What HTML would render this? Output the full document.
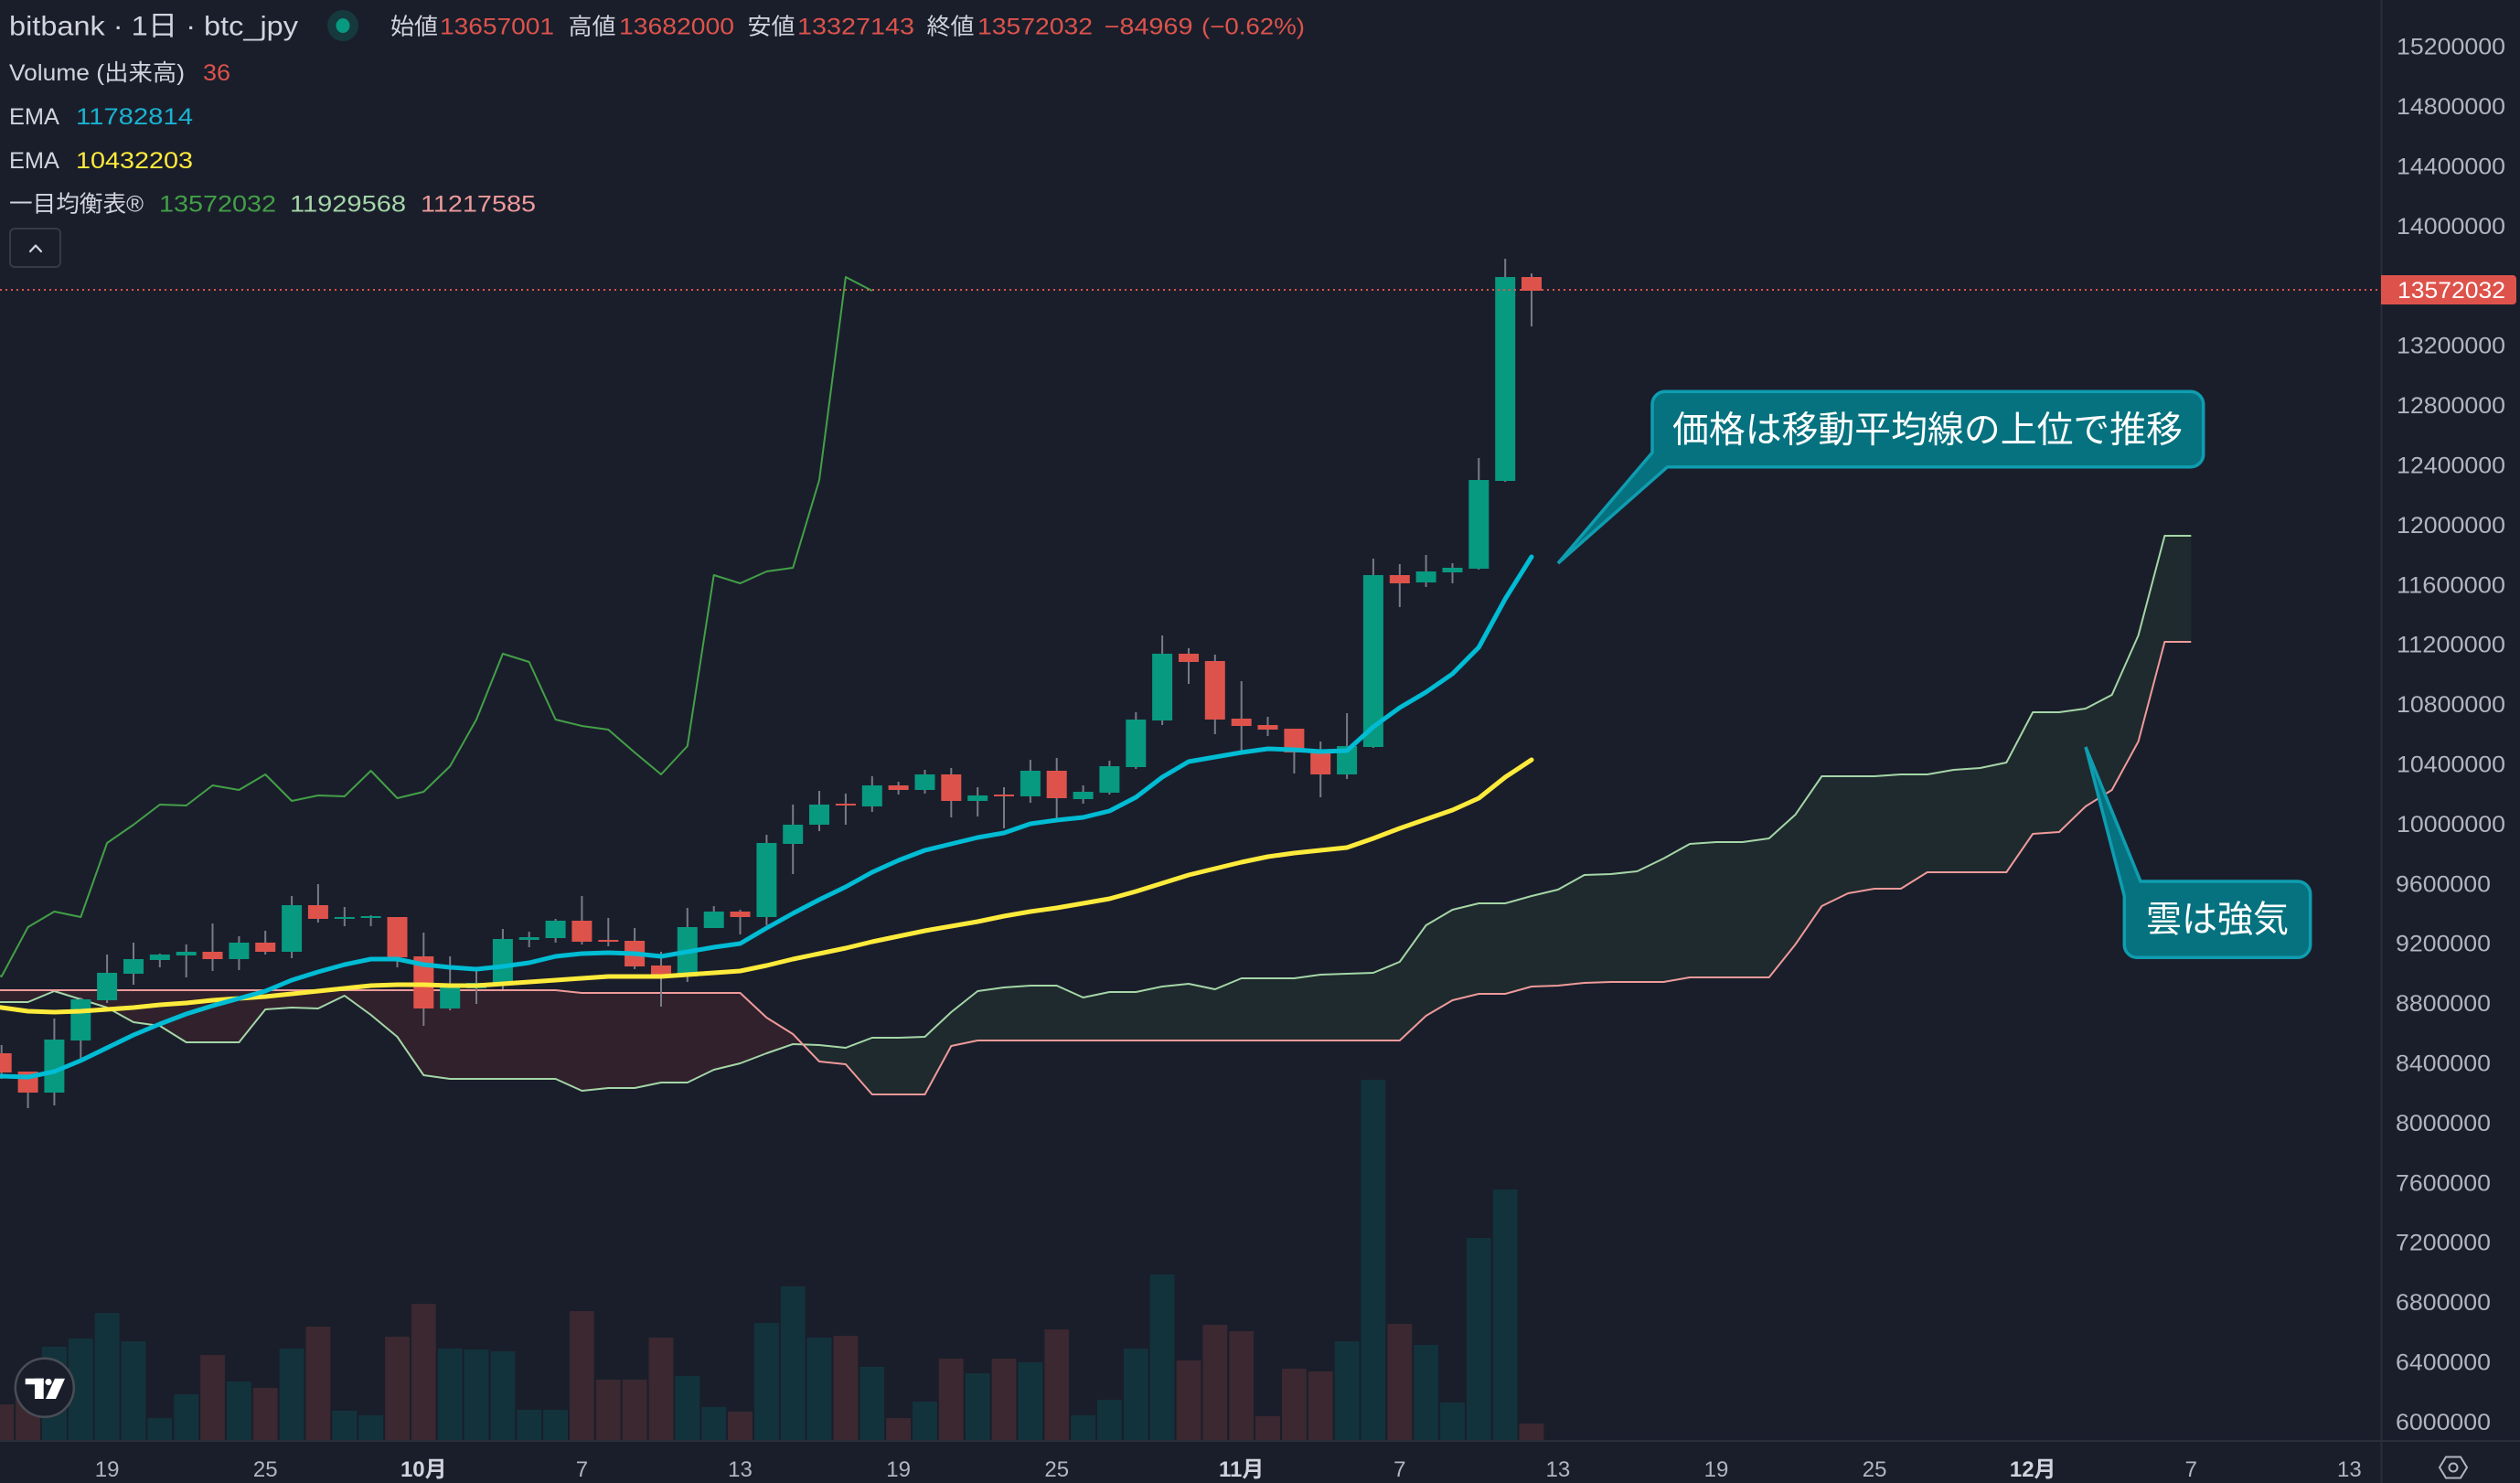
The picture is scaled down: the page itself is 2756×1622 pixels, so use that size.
<!DOCTYPE html>
<html><head><meta charset="utf-8"><style>html,body{margin:0;padding:0;background:#1a1e2b;overflow:hidden}svg{display:block}</style></head>
<body>
<svg xmlns="http://www.w3.org/2000/svg" width="2756" height="1622" viewBox="0 0 2756 1622" font-family="'Liberation Sans','Noto Sans CJK JP',sans-serif">
<rect width="2756" height="1622" fill="#1a1e2b"/>

<!-- volume -->
<g fill="#3b2830">
<rect x="-11.7" y="1536" width="26.8" height="39"/><rect x="17.2" y="1525" width="26.8" height="50"/>
<rect x="219.1" y="1482" width="26.8" height="93"/><rect x="276.8" y="1518" width="26.8" height="57"/>
<rect x="334.5" y="1451" width="26.8" height="124"/><rect x="421.1" y="1462" width="26.8" height="113"/>
<rect x="449.9" y="1426" width="26.8" height="149"/><rect x="623" y="1434" width="26.8" height="141"/>
<rect x="651.9" y="1509" width="26.8" height="66"/><rect x="680.7" y="1509" width="26.8" height="66"/>
<rect x="709.6" y="1463" width="26.8" height="112"/><rect x="796.1" y="1544" width="26.8" height="31"/>
<rect x="911.5" y="1461" width="26.8" height="114"/><rect x="969.2" y="1551" width="26.8" height="24"/>
<rect x="1026.9" y="1486" width="26.8" height="89"/><rect x="1084.6" y="1486" width="26.8" height="89"/>
<rect x="1142.3" y="1454" width="26.8" height="121"/><rect x="1286.6" y="1488" width="26.8" height="87"/>
<rect x="1315.4" y="1449" width="26.8" height="126"/><rect x="1344.3" y="1456" width="26.8" height="119"/>
<rect x="1373.1" y="1549" width="26.8" height="26"/><rect x="1402" y="1497" width="26.8" height="78"/>
<rect x="1430.8" y="1500" width="26.8" height="75"/><rect x="1517.4" y="1448" width="26.8" height="127"/>
<rect x="1661.6" y="1557" width="26.8" height="18"/>
</g>
<g fill="#13333c">
<rect x="46" y="1473" width="26.8" height="102"/><rect x="74.9" y="1464" width="26.8" height="111"/>
<rect x="103.7" y="1436" width="26.8" height="139"/><rect x="132.6" y="1467" width="26.8" height="108"/>
<rect x="161.4" y="1551" width="26.8" height="24"/><rect x="190.3" y="1525" width="26.8" height="50"/>
<rect x="248" y="1511" width="26.8" height="64"/><rect x="305.7" y="1475" width="26.8" height="100"/>
<rect x="363.4" y="1543" width="26.8" height="32"/><rect x="392.2" y="1548" width="26.8" height="27"/>
<rect x="478.8" y="1475" width="26.8" height="100"/><rect x="507.6" y="1476" width="26.8" height="99"/>
<rect x="536.5" y="1478" width="26.8" height="97"/><rect x="565.3" y="1542" width="26.8" height="33"/>
<rect x="594.2" y="1542" width="26.8" height="33"/><rect x="738.4" y="1505" width="26.8" height="70"/>
<rect x="767.3" y="1539" width="26.8" height="36"/><rect x="825" y="1447" width="26.8" height="128"/>
<rect x="853.8" y="1407" width="26.8" height="168"/><rect x="882.6" y="1463" width="26.8" height="112"/>
<rect x="940.4" y="1495" width="26.8" height="80"/><rect x="998.1" y="1533" width="26.8" height="42"/>
<rect x="1055.8" y="1502" width="26.8" height="73"/><rect x="1113.5" y="1490" width="26.8" height="85"/>
<rect x="1171.2" y="1548" width="26.8" height="27"/><rect x="1200" y="1531" width="26.8" height="44"/>
<rect x="1228.9" y="1475" width="26.8" height="100"/><rect x="1257.7" y="1394" width="26.8" height="181"/>
<rect x="1459.7" y="1467" width="26.8" height="108"/><rect x="1488.5" y="1181" width="26.8" height="394"/>
<rect x="1546.2" y="1471" width="26.8" height="104"/><rect x="1575.1" y="1534" width="26.8" height="41"/>
<rect x="1603.9" y="1354" width="26.8" height="221"/><rect x="1632.8" y="1301" width="26.8" height="274"/>
</g>

<!-- cloud fills -->
<polygon fill="rgba(244,67,54,0.1)" points="-27.2,1096 1.7,1096 30.6,1096 59.4,1084 88.3,1093 117.1,1102 146,1118 174.8,1122 203.7,1140 232.5,1140 261.4,1140 290.2,1104 319.1,1102 347.9,1103 376.8,1089 405.6,1110 434.5,1134 463.3,1176 492.2,1180 521,1180 549.9,1180 578.7,1180 607.6,1180 636.4,1193 665.3,1190 694.1,1190 723,1184 751.8,1184 780.7,1170 809.5,1163 838.4,1152 867.2,1142 878.2,1142.4 867.2,1131 838.4,1113 809.5,1086 636.4,1086 607.6,1083 -27.2,1083"/>
<polygon fill="rgba(67,160,71,0.1)" points="878.2,1142.4 896,1143 924.9,1146 953.8,1135 982.6,1135 1011.5,1134 1040.3,1107 1069.2,1084 1098,1080 1126.9,1078 1155.7,1078 1184.6,1091 1213.4,1085 1242.3,1085 1271.1,1079 1300,1076 1328.8,1082 1357.7,1070 1386.5,1070 1415.4,1070 1444.2,1066 1473.1,1065 1501.9,1064 1530.8,1052 1559.6,1012 1588.5,995 1617.3,988 1646.2,988 1675,980 1703.9,973 1732.7,957 1761.6,956 1790.4,953 1819.3,939 1848.1,923 1877,921 1905.8,921 1934.7,917 1963.5,891 1992.4,849 2021.2,849 2050.1,849 2078.9,847 2107.8,847 2136.6,842 2165.5,840 2194.3,834 2223.2,779 2252,779 2280.9,775 2309.7,760 2338.6,695 2367.4,586 2396.3,586 2396.3,702 2367.4,702 2338.6,811 2309.7,864 2280.9,882 2252,910 2223.2,912 2194.3,954 2107.8,954 2078.9,972 2050.1,972 2021.2,977 1992.4,991 1963.5,1033 1934.7,1069 1848.1,1069 1819.3,1074 1761.6,1074 1732.7,1075 1703.9,1078 1675,1079 1646.2,1087 1617.3,1087 1588.5,1094 1559.6,1111 1530.8,1138 1069.2,1138 1040.3,1144 1011.5,1197 953.8,1197 924.9,1164 896,1161"/>

<!-- senkou lines -->
<polyline fill="none" stroke="#a5d6a7" stroke-width="2" stroke-linejoin="round" points="-27.2,1096 1.7,1096 30.6,1096 59.4,1084 88.3,1093 117.1,1102 146,1118 174.8,1122 203.7,1140 232.5,1140 261.4,1140 290.2,1104 319.1,1102 347.9,1103 376.8,1089 405.6,1110 434.5,1134 463.3,1176 492.2,1180 521,1180 549.9,1180 578.7,1180 607.6,1180 636.4,1193 665.3,1190 694.1,1190 723,1184 751.8,1184 780.7,1170 809.5,1163 838.4,1152 867.2,1142 896,1143 924.9,1146 953.8,1135 982.6,1135 1011.5,1134 1040.3,1107 1069.2,1084 1098,1080 1126.9,1078 1155.7,1078 1184.6,1091 1213.4,1085 1242.3,1085 1271.1,1079 1300,1076 1328.8,1082 1357.7,1070 1386.5,1070 1415.4,1070 1444.2,1066 1473.1,1065 1501.9,1064 1530.8,1052 1559.6,1012 1588.5,995 1617.3,988 1646.2,988 1675,980 1703.9,973 1732.7,957 1761.6,956 1790.4,953 1819.3,939 1848.1,923 1877,921 1905.8,921 1934.7,917 1963.5,891 1992.4,849 2021.2,849 2050.1,849 2078.9,847 2107.8,847 2136.6,842 2165.5,840 2194.3,834 2223.2,779 2252,779 2280.9,775 2309.7,760 2338.6,695 2367.4,586 2396.3,586"/>
<polyline fill="none" stroke="#ef9a9a" stroke-width="2" stroke-linejoin="round" points="-27.2,1083 607.6,1083 636.4,1086 809.5,1086 838.4,1113 867.2,1131 896,1161 924.9,1164 953.8,1197 1011.5,1197 1040.3,1144 1069.2,1138 1530.8,1138 1559.6,1111 1588.5,1094 1617.3,1087 1646.2,1087 1675,1079 1703.9,1078 1732.7,1075 1761.6,1074 1819.3,1074 1848.1,1069 1934.7,1069 1963.5,1033 1992.4,991 2021.2,977 2050.1,972 2078.9,972 2107.8,954 2194.3,954 2223.2,912 2252,910 2280.9,882 2309.7,864 2338.6,811 2367.4,702 2396.3,702"/>

<!-- lagging span -->
<polyline fill="none" stroke="#43a047" stroke-width="2" stroke-linejoin="round" points="-27.2,1057 1.7,1068 30.6,1014 59.4,997 88.3,1003 117.1,922 146,902 174.8,880 203.7,881 232.5,859 261.4,864 290.2,847 319.1,876 347.9,870 376.8,871 405.6,843 434.5,873 463.3,866 492.2,838 521,787 549.9,715 578.7,724 607.6,787 636.4,794 665.3,798 694.1,823 723,847 751.8,816 780.7,629 809.5,638 838.4,625 867.2,621 896,525 924.9,303 953.8,318"/>

<!-- wicks -->
<path fill="none" stroke="#787b86" stroke-width="2" d="M1.7 1143V1180M30.6 1172V1212M59.4 1114V1209M88.3 1091V1160M117.1 1044V1097M146 1031V1077M174.8 1043V1058M203.7 1033V1069M232.5 1010V1062M261.4 1024V1061M290.2 1018V1044M319.1 980V1048M347.9 967V1009M376.8 992V1013M405.6 1001V1013M434.5 1003V1058M463.3 1020V1122M492.2 1046V1105M521 1058V1098M549.9 1016V1082M578.7 1019V1036M607.6 1005V1031M636.4 980V1033M665.3 1004V1035M694.1 1015V1060M723 1041V1101M751.8 993V1074M780.7 991V1015M809.5 995V1022M838.4 913V1012M867.2 880V956M896 865V909M924.9 868V902M953.8 849V888M982.6 855V869M1011.5 842V868M1040.3 840V894M1069.2 861V893M1098 861V906M1126.9 831V878M1155.7 829V898M1184.6 859V879M1213.4 832V869M1242.3 779V841M1271.1 695V793M1300 709V748M1328.8 716V803M1357.7 745V821M1386.5 784V805M1415.4 797V846M1444.2 811V872M1473.1 780V852M1501.9 611V818M1530.8 617V664M1559.6 607V642M1588.5 616V638M1617.3 501V623M1646.2 283V527M1675 299V357"/>

<!-- green candles -->
<g fill="#089981">
<rect x="48.4" y="1137" width="22" height="58"/><rect x="77.3" y="1093" width="22" height="45"/>
<rect x="106.1" y="1064" width="22" height="30"/><rect x="135" y="1049" width="22" height="16"/>
<rect x="163.8" y="1044" width="22" height="6"/><rect x="192.7" y="1041" width="22" height="4"/>
<rect x="250.4" y="1031" width="22" height="18"/><rect x="308.1" y="990" width="22" height="51"/>
<rect x="365.8" y="1003" width="22" height="2"/><rect x="394.6" y="1002" width="22" height="2"/>
<rect x="481.2" y="1080" width="22" height="23"/><rect x="510" y="1075" width="22" height="6"/>
<rect x="538.9" y="1027" width="22" height="49"/><rect x="567.7" y="1025" width="22" height="3"/>
<rect x="596.6" y="1007" width="22" height="19"/><rect x="740.8" y="1014" width="22" height="54"/>
<rect x="769.7" y="997" width="22" height="18"/><rect x="827.4" y="922" width="22" height="81"/>
<rect x="856.2" y="902" width="22" height="21"/><rect x="885" y="880" width="22" height="22"/>
<rect x="942.8" y="859" width="22" height="23"/><rect x="1000.5" y="847" width="22" height="17"/>
<rect x="1058.2" y="870" width="22" height="6"/><rect x="1115.9" y="843" width="22" height="28"/>
<rect x="1173.6" y="866" width="22" height="8"/><rect x="1202.4" y="838" width="22" height="29"/>
<rect x="1231.3" y="787" width="22" height="52"/><rect x="1260.1" y="715" width="22" height="73"/>
<rect x="1462.1" y="816" width="22" height="31"/><rect x="1490.9" y="629" width="22" height="188"/>
<rect x="1548.6" y="625" width="22" height="12"/><rect x="1577.5" y="621" width="22" height="5"/>
<rect x="1606.3" y="525" width="22" height="97"/><rect x="1635.2" y="303" width="22" height="223"/>
</g>
<!-- red candles -->
<g fill="#dd534b">
<rect x="-9.3" y="1152" width="22" height="21"/><rect x="19.6" y="1172" width="22" height="23"/>
<rect x="221.5" y="1041" width="22" height="8"/><rect x="279.2" y="1031" width="22" height="10"/>
<rect x="336.9" y="990" width="22" height="15"/><rect x="423.5" y="1003" width="22" height="44"/>
<rect x="452.3" y="1046" width="22" height="57"/><rect x="625.4" y="1007" width="22" height="23"/>
<rect x="654.3" y="1028" width="22" height="2"/><rect x="683.1" y="1029" width="22" height="28"/>
<rect x="712" y="1056" width="22" height="12"/><rect x="798.5" y="997" width="22" height="6"/>
<rect x="913.9" y="879" width="22" height="2"/><rect x="971.6" y="859" width="22" height="5"/>
<rect x="1029.3" y="847" width="22" height="29"/><rect x="1087" y="869" width="22" height="2"/>
<rect x="1144.7" y="843" width="22" height="30"/><rect x="1289" y="715" width="22" height="9"/>
<rect x="1317.8" y="723" width="22" height="64"/><rect x="1346.7" y="786" width="22" height="8"/>
<rect x="1375.5" y="793" width="22" height="5"/><rect x="1404.4" y="797" width="22" height="26"/>
<rect x="1433.2" y="822" width="22" height="25"/><rect x="1519.8" y="629" width="22" height="9"/>
<rect x="1664" y="303" width="22" height="15"/>
</g>

<!-- EMAs -->
<polyline fill="none" stroke="#ffeb3b" stroke-width="5" stroke-linejoin="round" stroke-linecap="round" points="-27,1098 1.7,1102 30.6,1106 59.4,1107 88.3,1106 117.1,1104 146,1102 174.8,1099 203.7,1097 232.5,1094 261.4,1092 290.2,1090 319.1,1087 347.9,1084 376.8,1081 405.6,1078 434.5,1077 463.3,1077 492.2,1078 521,1078 549.9,1076 578.7,1074 607.6,1072 636.4,1070 665.3,1068 694.1,1068 723,1068 751.8,1066 780.7,1064 809.5,1062 838.4,1056 867.2,1049 896,1043 924.9,1037 953.8,1030 982.6,1024 1011.5,1018 1040.3,1013 1069.2,1008 1098,1002 1126.9,997 1155.7,993 1184.6,988 1213.4,983 1242.3,975 1271.1,966 1300,957 1328.8,950 1357.7,943 1386.5,937 1415.4,933 1444.2,930 1473.1,927 1501.9,917 1530.8,906 1559.6,896 1588.5,886 1617.3,873 1646.2,850 1675,831"/>
<polyline fill="none" stroke="#00bcd4" stroke-width="5" stroke-linejoin="round" stroke-linecap="round" points="-27,1176 1.7,1177 30.6,1178 59.4,1172 88.3,1160 117.1,1146 146,1132 174.8,1120 203.7,1109 232.5,1100 261.4,1092 290.2,1084 319.1,1072 347.9,1063 376.8,1055 405.6,1049 434.5,1049 463.3,1055 492.2,1058 521,1060 549.9,1057 578.7,1053 607.6,1046 636.4,1043 665.3,1042 694.1,1043 723,1046 751.8,1041 780.7,1036 809.5,1032 838.4,1015 867.2,999 896,984 924.9,970 953.8,954 982.6,941 1011.5,930 1040.3,923 1069.2,916 1098,911 1126.9,901 1155.7,897 1184.6,894 1213.4,887 1242.3,872 1271.1,850 1300,833 1328.8,828 1357.7,823 1386.5,819 1415.4,820 1444.2,822 1473.1,821 1501.9,795 1530.8,774 1559.6,757 1588.5,737 1617.3,708 1646.2,655 1675,609"/>

<!-- price line -->
<line x1="0" y1="317" x2="2604" y2="317" stroke="#dd534b" stroke-width="2" stroke-dasharray="2 4"/>

<!-- callouts -->
<path d="M1821,428.3 H2395.7 A14,14 0 0 1 2409.7,442.3 V496.7 A14,14 0 0 1 2395.7,510.7 H1823.5 L1704,616 L1807,495 V442.3 A14,14 0 0 1 1821,428.3 Z" fill="#06727f" stroke="#0f9db0" stroke-width="3.5"/>
<text x="1829" y="483.5" font-size="40" fill="#ffffff" textLength="558" lengthAdjust="spacingAndGlyphs">価格は移動平均線の上位で推移</text>
<path d="M2341,964 H2512.7 A14,14 0 0 1 2526.7,978 V1033.3 A14,14 0 0 1 2512.7,1047.3 H2337.3 A14,14 0 0 1 2323.3,1033.3 V980 L2281,817 Z" fill="#06727f" stroke="#0f9db0" stroke-width="3.5"/>
<text x="2347" y="1019" font-size="40" fill="#ffffff" textLength="156" lengthAdjust="spacingAndGlyphs">雲は強気</text>

<!-- TV logo -->
<circle cx="48.8" cy="1517.7" r="32" fill="#1a1e2b" stroke="#4a4d55" stroke-width="2.5"/>
<g fill="#ffffff">
<rect x="27.7" y="1507.7" width="20" height="6.5"/>
<rect x="38" y="1507.7" width="9.7" height="22.3"/>
<circle cx="53" cy="1511.5" r="3.6"/>
<polygon points="60,1507.7 71,1507.7 61,1530 50,1530"/>
</g>

<!-- axes -->
<line x1="2604.5" y1="0" x2="2604.5" y2="1622" stroke="#2a2e39" stroke-width="2"/>
<line x1="0" y1="1576" x2="2756" y2="1576" stroke="#2a2e39" stroke-width="2"/>
<g font-size="25" fill="#b2b5be">
<text x="2621" y="59.7" textLength="119" lengthAdjust="spacingAndGlyphs">15200000</text>
<text x="2621" y="125.1" textLength="119" lengthAdjust="spacingAndGlyphs">14800000</text>
<text x="2621" y="190.5" textLength="119" lengthAdjust="spacingAndGlyphs">14400000</text>
<text x="2621" y="255.9" textLength="119" lengthAdjust="spacingAndGlyphs">14000000</text>
<text x="2621" y="386.7" textLength="119" lengthAdjust="spacingAndGlyphs">13200000</text>
<text x="2621" y="452.1" textLength="119" lengthAdjust="spacingAndGlyphs">12800000</text>
<text x="2621" y="517.5" textLength="119" lengthAdjust="spacingAndGlyphs">12400000</text>
<text x="2621" y="582.9" textLength="119" lengthAdjust="spacingAndGlyphs">12000000</text>
<text x="2621" y="648.3" textLength="119" lengthAdjust="spacingAndGlyphs">11600000</text>
<text x="2621" y="713.7" textLength="119" lengthAdjust="spacingAndGlyphs">11200000</text>
<text x="2621" y="779.1" textLength="119" lengthAdjust="spacingAndGlyphs">10800000</text>
<text x="2621" y="844.5" textLength="119" lengthAdjust="spacingAndGlyphs">10400000</text>
<text x="2621" y="909.9" textLength="119" lengthAdjust="spacingAndGlyphs">10000000</text>
<text x="2620" y="975.3" textLength="104" lengthAdjust="spacingAndGlyphs">9600000</text>
<text x="2620" y="1040.7" textLength="104" lengthAdjust="spacingAndGlyphs">9200000</text>
<text x="2620" y="1106.1" textLength="104" lengthAdjust="spacingAndGlyphs">8800000</text>
<text x="2620" y="1171.5" textLength="104" lengthAdjust="spacingAndGlyphs">8400000</text>
<text x="2620" y="1236.9" textLength="104" lengthAdjust="spacingAndGlyphs">8000000</text>
<text x="2620" y="1302.3" textLength="104" lengthAdjust="spacingAndGlyphs">7600000</text>
<text x="2620" y="1367.7" textLength="104" lengthAdjust="spacingAndGlyphs">7200000</text>
<text x="2620" y="1433.1" textLength="104" lengthAdjust="spacingAndGlyphs">6800000</text>
<text x="2620" y="1498.5" textLength="104" lengthAdjust="spacingAndGlyphs">6400000</text>
<text x="2620" y="1563.9" textLength="104" lengthAdjust="spacingAndGlyphs">6000000</text>
</g>
<path d="M2604,301 H2748 A4,4 0 0 1 2752,305 V329 A4,4 0 0 1 2748,333 H2604 Z" fill="#dd534b"/>
<text x="2622" y="326" font-size="25" fill="#ffffff" textLength="118" lengthAdjust="spacingAndGlyphs">13572032</text>

<g font-size="24" fill="#b2b5be" text-anchor="middle">
<text x="117.1" y="1615">19</text>
<text x="290.2" y="1615">25</text>
<text x="463.3" y="1615" font-weight="bold" fill="#d1d4dc">10月</text>
<text x="636.4" y="1615">7</text>
<text x="809.5" y="1615">13</text>
<text x="982.6" y="1615">19</text>
<text x="1155.7" y="1615">25</text>
<text x="1357.7" y="1615" font-weight="bold" fill="#d1d4dc">11月</text>
<text x="1530.8" y="1615">7</text>
<text x="1703.9" y="1615">13</text>
<text x="1877" y="1615">19</text>
<text x="2050.1" y="1615">25</text>
<text x="2223.2" y="1615" font-weight="bold" fill="#d1d4dc">12月</text>
<text x="2396.3" y="1615">7</text>
<text x="2569.4" y="1615">13</text>
</g>
<polygon points="2668,1605 2675,1593.5 2691,1593.5 2698,1605 2691,1616.5 2675,1616.5" fill="none" stroke="#b2b5be" stroke-width="2"/>
<circle cx="2683" cy="1605" r="4.5" fill="none" stroke="#b2b5be" stroke-width="2"/>

<!-- legend -->
<text x="10" y="38.5" font-size="30" fill="#d1d4dc" textLength="316" lengthAdjust="spacingAndGlyphs">bitbank · 1日 · btc_jpy</text>
<circle cx="375" cy="28" r="17" fill="rgba(8,153,129,0.22)"/>
<ellipse cx="375" cy="28" rx="7.5" ry="8" fill="#089981"/>
<g font-size="25">
<text x="427" y="37.5" fill="#d1d4dc" textLength="52" lengthAdjust="spacingAndGlyphs">始値</text>
<text x="481" y="37.5" fill="#dd534b" textLength="125" lengthAdjust="spacingAndGlyphs">13657001</text>
<text x="621.5" y="37.5" fill="#d1d4dc" textLength="52" lengthAdjust="spacingAndGlyphs">高値</text>
<text x="677" y="37.5" fill="#dd534b" textLength="126" lengthAdjust="spacingAndGlyphs">13682000</text>
<text x="817.5" y="37.5" fill="#d1d4dc" textLength="52" lengthAdjust="spacingAndGlyphs">安値</text>
<text x="872" y="37.5" fill="#dd534b" textLength="128" lengthAdjust="spacingAndGlyphs">13327143</text>
<text x="1013.5" y="37.5" fill="#d1d4dc" textLength="52" lengthAdjust="spacingAndGlyphs">終値</text>
<text x="1069" y="37.5" fill="#dd534b" textLength="126" lengthAdjust="spacingAndGlyphs">13572032</text>
<text x="1207.5" y="37.5" fill="#dd534b" textLength="97" lengthAdjust="spacingAndGlyphs">−84969</text>
<text x="1314" y="37.5" fill="#dd534b" textLength="113" lengthAdjust="spacingAndGlyphs">(−0.62%)</text>

<text x="10" y="88" fill="#d1d4dc" textLength="192" lengthAdjust="spacingAndGlyphs">Volume (出来高)</text>
<text x="222" y="88" fill="#dd534b" textLength="30" lengthAdjust="spacingAndGlyphs">36</text>

<text x="10" y="136" fill="#d1d4dc" textLength="55" lengthAdjust="spacingAndGlyphs">EMA</text>
<text x="83" y="136" fill="#1ab2d0" textLength="128" lengthAdjust="spacingAndGlyphs">11782814</text>

<text x="10" y="184" fill="#d1d4dc" textLength="55" lengthAdjust="spacingAndGlyphs">EMA</text>
<text x="83" y="184" fill="#ffeb3b" textLength="128" lengthAdjust="spacingAndGlyphs">10432203</text>

<text x="10" y="231.5" fill="#d1d4dc" textLength="147" lengthAdjust="spacingAndGlyphs">一目均衡表®</text>
<text x="174" y="231.5" fill="#43a047" textLength="128" lengthAdjust="spacingAndGlyphs">13572032</text>
<text x="317" y="231.5" fill="#a5d6a7" textLength="127" lengthAdjust="spacingAndGlyphs">11929568</text>
<text x="460" y="231.5" fill="#ef9a9a" textLength="126" lengthAdjust="spacingAndGlyphs">11217585</text>
</g>
<rect x="11" y="250" width="55" height="42" rx="5" fill="none" stroke="#363a45" stroke-width="2"/>
<polyline points="33,275 39,268.5 45,275" fill="none" stroke="#d1d4dc" stroke-width="2.2" stroke-linecap="round" stroke-linejoin="round"/>
</svg>
</body></html>
